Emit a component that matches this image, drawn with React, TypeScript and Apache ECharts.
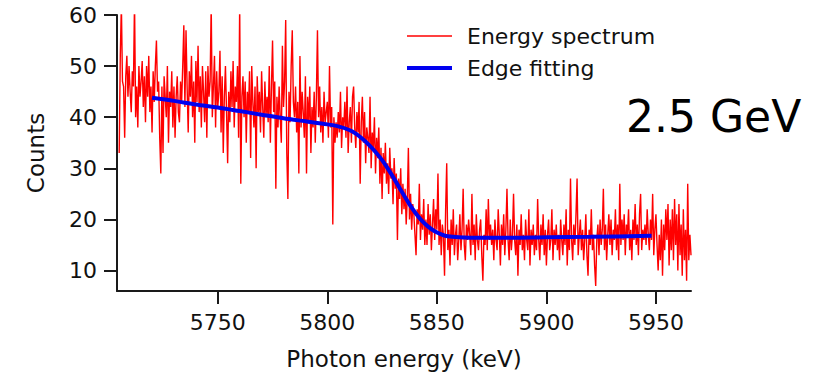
import React, { useEffect, useRef } from "react";
import * as echarts from "echarts";

// Spectrum sampled every 0.5 keV starting at 5705 keV
const spectrumStart = 5705;
const spectrumStep = 0.5;
const spectrumCounts = [
  33, 52, 62, 47, 46, 36, 48, 52, 44, 50, 45, 41, 49, 46, 63, 40, 46, 38, 50, 44,
  47, 51, 42, 48, 39, 50, 44, 52, 41, 46, 37, 49, 43, 50, 55, 45, 47, 36, 29, 46,
  33, 48, 44, 40, 50, 35, 45, 42, 49, 38, 46, 36, 44, 48, 41, 39, 47, 43, 50, 58,
  42, 57, 46, 37, 49, 44, 52, 40, 47, 35, 51, 43, 54, 41, 48, 38, 50, 45, 39, 49,
  36, 50, 44, 47, 62, 40, 46, 52, 38, 49, 42, 45, 53, 37, 48, 33, 44, 50, 41, 31,
  45, 39, 49, 42, 51, 38, 46, 43, 50, 36, 62, 27, 44, 48, 40, 47, 35, 45, 41, 49,
  32, 50, 43, 38, 46, 30, 48, 41, 45, 37, 49, 42, 36, 47, 40, 44, 39, 50, 35, 46,
  55, 41, 47, 26, 44, 38, 46, 40, 35, 54, 42, 47, 59, 33, 24, 45, 39, 50, 57, 43,
  40, 46, 37, 43, 29, 52, 38, 45, 41, 36, 48, 29, 44, 39, 46, 33, 42, 38, 45, 35,
  44, 57, 40, 46, 37, 42, 35, 45, 39, 41, 43, 36, 50, 38, 42, 19, 40, 35, 39, 36,
  41, 37, 45, 34, 40, 38, 43, 36, 46, 33, 39, 42, 35, 44, 46, 38, 34, 41, 37, 43,
  27, 39, 44, 35, 41, 31, 38, 36, 33, 44, 30, 37, 34, 40, 29, 36, 32, 38, 27, 34,
  24, 33, 29, 35, 27, 31, 25, 34, 28, 30, 23, 32, 26, 29, 16, 28, 24, 30, 21, 27,
  22, 26, 19, 24, 34, 20, 25, 18, 23, 21, 17, 13, 22, 19, 27, 16, 21, 18, 24, 15,
  20, 15, 23, 17, 21, 14, 19, 24, 16, 22, 18, 29, 15, 20, 13, 19, 17, 9, 22, 31,
  14, 18, 11, 20, 15, 22, 13, 17, 19, 12, 16, 21, 14, 18, 26, 15, 12, 19, 16, 20,
  17, 13, 25, 15, 19, 12, 21, 16, 14, 18, 20, 13, 8, 17, 15, 22, 14, 24, 16, 19,
  15, 18, 12, 20, 16, 14, 22, 17, 11, 19, 15, 21, 13, 18, 26, 16, 12, 20, 14, 17,
  25, 16, 13, 19, 9, 18, 15, 21, 14, 17, 12, 20, 16, 14, 22, 11, 18, 15, 19, 13,
  17, 14, 24, 16, 12, 19, 15, 21, 13, 18, 11, 17, 20, 14, 16, 22, 12, 18, 15, 19,
  14, 17, 12, 20, 16, 13, 19, 15, 22, 11, 18, 14, 28, 16, 12, 19, 15, 21, 28, 13,
  17, 20, 14, 18, 12, 16, 21, 13, 9, 18, 15, 22, 14, 17, 11, 7, 16, 19, 13, 20,
  15, 18, 26, 14, 19, 12, 17, 21, 15, 20, 13, 18, 16, 22, 14, 19, 12, 27, 15, 20,
  16, 21, 13, 19, 17, 22, 14, 18, 12, 20, 16, 23, 15, 19, 13, 21, 25, 14, 18, 16,
  19, 15, 22, 17, 14, 20, 16, 25, 13, 18, 21, 15, 10, 17, 12, 20, 9, 19, 14, 22,
  16, 23, 11, 20, 14, 22, 12, 24, 15, 21, 10, 23, 13, 19, 9, 22, 12, 18, 8, 27,
  12, 17, 13,
];

// Edge fit curve
const fitEnergy = [
  5720, 5730, 5740, 5750, 5760, 5770, 5780, 5790, 5800, 5805, 5810, 5813, 5816,
  5819, 5822, 5825, 5828, 5831, 5834, 5837, 5840, 5843, 5846, 5849, 5852, 5855,
  5860, 5870, 5880, 5900, 5920, 5948,
];
const fitCounts = [
  43.8, 43.2, 42.5, 41.9, 41.2, 40.5, 39.8, 39.2, 38.6, 38.2, 37.5, 36.8, 35.8,
  34.6, 33.2, 31.6, 29.7, 27.6, 25.4, 23.3, 21.4, 19.8, 18.6, 17.7, 17.1, 16.7,
  16.5, 16.4, 16.4, 16.5, 16.6, 16.8,
];

const xTicks = [5750, 5800, 5850, 5900, 5950];
const yTicks = [10, 20, 30, 40, 50, 60];

const seriesNames = ["Energy spectrum", "Edge fitting"];
const seriesColors = ["#ff0000", "#0000f0"];
const seriesWidths = [1.4, 4];

const FONT = "DejaVu Sans";

export default function App() {
  const ref = useRef<HTMLDivElement>(null);

  useEffect(() => {
    if (!ref.current) return;
    const chart = echarts.init(ref.current, null, { renderer: "svg" });

    const spectrumData = spectrumCounts.map((c, i) => [
      spectrumStart + i * spectrumStep,
      c,
    ]);
    const fitData = fitEnergy.map((e, i) => [e, fitCounts[i]]);

    const axisLine = { show: true, lineStyle: { color: "#1a1a1a", width: 2 } };
    const axisTick = { show: true, length: 13, lineStyle: { color: "#1a1a1a", width: 2 } };

    // hand-drawn legend (line samples + labels)
    const legendGraphics: any[] = [];
    seriesNames.forEach((name, i) => {
      const y = 36 + i * 32;
      legendGraphics.push({
        type: "line",
        shape: { x1: 407, y1: y, x2: 452, y2: y },
        style: { stroke: seriesColors[i], lineWidth: seriesWidths[i] },
      });
      legendGraphics.push({
        type: "text",
        x: 467,
        y,
        style: {
          text: name,
          fontFamily: FONT,
          fontSize: 22,
          fill: "#111",
          verticalAlign: "middle",
          align: "left",
        },
      });
    });

    chart.setOption({
      animation: false,
      backgroundColor: "#ffffff",
      grid: {
        left: 117,
        right: 123,
        top: 15,
        bottom: 83,
        containLabel: false,
        outerBoundsMode: "none",
      },
      xAxis: {
        type: "value",
        min: 5704,
        max: 5966,
        name: "Photon energy (keV)",
        nameLocation: "middle",
        nameGap: 56,
        nameTextStyle: { fontFamily: FONT, fontSize: 23, color: "#111" },
        axisLine,
        axisTick: { ...axisTick, customValues: xTicks },
        axisLabel: {
          customValues: xTicks,
          margin: 20,
          fontFamily: FONT,
          fontSize: 22,
          color: "#111",
          formatter: (v: number) => String(v),
        },
        splitLine: { show: false },
      },
      yAxis: {
        type: "value",
        min: 6,
        max: 60,
        name: "Counts",
        nameLocation: "middle",
        nameGap: 70,
        nameTextStyle: { fontFamily: FONT, fontSize: 23, color: "#111" },
        axisLine,
        axisTick: { ...axisTick, customValues: yTicks },
        axisLabel: {
          customValues: yTicks,
          margin: 20,
          fontFamily: FONT,
          fontSize: 22,
          color: "#111",
          formatter: (v: number) => String(v),
        },
        splitLine: { show: false },
      },
      series: [
        {
          name: seriesNames[0],
          type: "line",
          data: spectrumData,
          showSymbol: false,
          symbol: "none",
          clip: true,
          color: seriesColors[0],
          lineStyle: { color: seriesColors[0], width: seriesWidths[0] },
        },
        {
          name: seriesNames[1],
          type: "line",
          data: fitData,
          showSymbol: false,
          symbol: "none",
          smooth: 0.3,
          color: seriesColors[1],
          lineStyle: { color: seriesColors[1], width: seriesWidths[1] },
        },
      ],
      graphic: [
        ...legendGraphics,
        {
          type: "text",
          x: 626,
          y: 116,
          style: {
            text: "2.5 GeV",
            fontFamily: FONT,
            fontSize: 44,
            fill: "#000",
            verticalAlign: "middle",
            align: "left",
          },
        },
      ],
    });

    return () => chart.dispose();
  }, []);

  return (
    <div
      ref={ref}
      style={{ position: "fixed", left: 0, top: 0, width: 814, height: 374 }}
    />
  );
}
